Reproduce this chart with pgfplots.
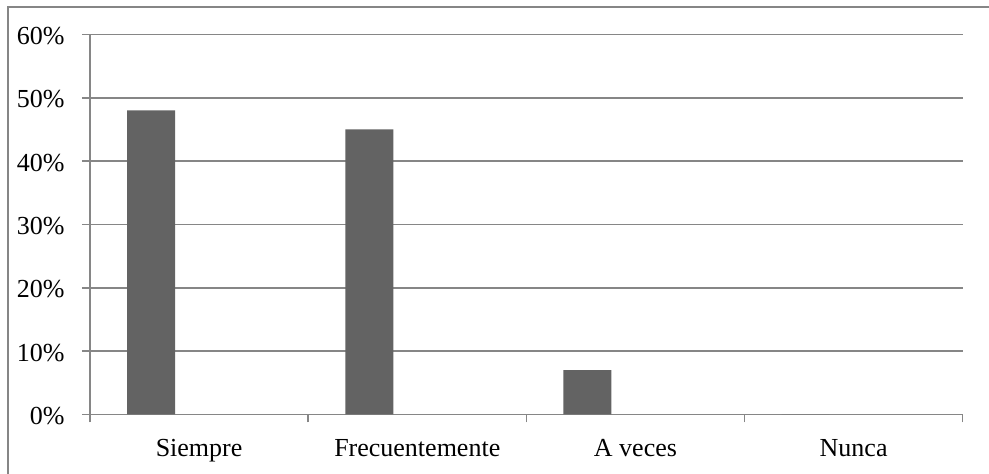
\documentclass[border=0pt]{standalone}
\usepackage{fontspec}
\setmainfont{Liberation Serif}
\usepackage{pgfplots}
\pgfplotsset{compat=1.18}

\definecolor{bargray}{RGB}{99,99,99}
\definecolor{axgray}{RGB}{134,134,134}

\begin{document}
\begin{tikzpicture}
\path[use as bounding box] (0,0) rectangle (494.5pt,237pt);
\draw[line width=0.7pt, axgray] (4pt,-10pt) rectangle (510pt,233.5pt);
\begin{axis}[
    at={(45pt,29.75pt)}, anchor=south west,
    scale only axis,
    width=436.35pt, height=190pt,
    ybar,
    bar width=24pt,
    bar shift=-24pt,
    xmin=-0.5, xmax=3.5,
    ymin=0, ymax=60,
    ytick={0,10,...,60},
    xtick={-0.5,0.5,1.5,2.5,3.5},
    xticklabels={},
    extra x ticks={0,1,2,3},
    extra x tick labels={Siempre,Frecuentemente,A veces,Nunca},
    extra x tick style={major tick length=0pt, grid=none},
    axis x line*=bottom,
    axis y line*=left,
    tick align=outside,
    major tick length=4pt,
    ymajorgrids,
    major grid style={line width=0.7pt, axgray},
    axis line style={line width=0.7pt, axgray},
    tick style={line width=0.7pt, axgray},
    font=\fontsize{13}{15}\selectfont,
    /pgf/number format/assume math mode=true,
    yticklabel={\pgfmathprintnumber{\tick}\%},
    yticklabel style={anchor=base east, inner sep=0pt, xshift=-8.5pt, yshift=-5pt},
    xticklabel style={anchor=base, inner sep=0pt, yshift=-21pt},
]
\addplot[fill=bargray, draw=none] coordinates {(0,48) (1,45) (2,7) (3,0)};
\end{axis}
\end{tikzpicture}
\end{document}
